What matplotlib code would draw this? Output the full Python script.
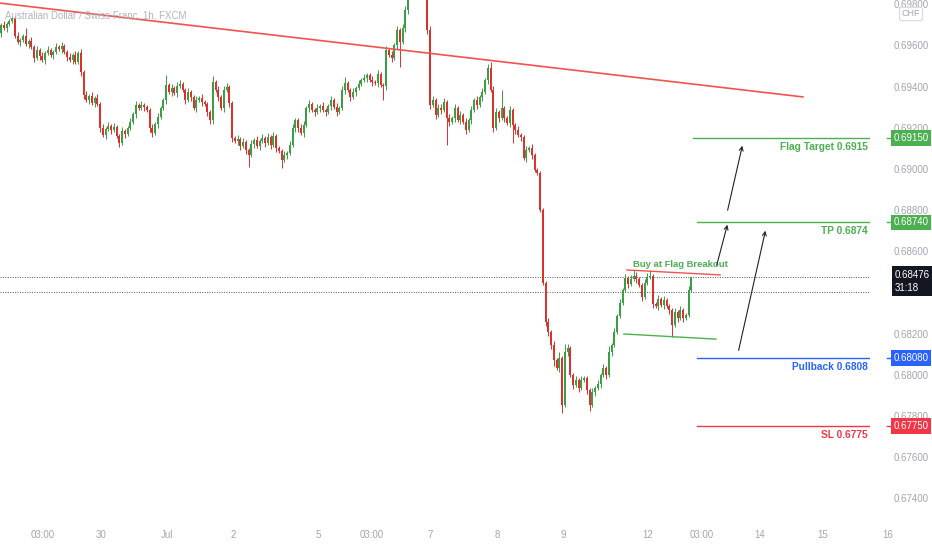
import matplotlib
matplotlib.use('Agg')
import matplotlib.pyplot as plt
from matplotlib.transforms import ScaledTranslation

# AUD/CHF 1h closes, one per bar
closes = [
    0.69700, 0.69685, 0.69704, 0.69719, 0.69734, 0.69646, 0.69617, 0.69627, 0.69646, 0.69607, 0.69622, 0.69593,
    0.69539, 0.69578, 0.69549, 0.69529, 0.69563, 0.69578, 0.69554, 0.69568, 0.69593, 0.69583, 0.69597, 0.69568,
    0.69544, 0.69529, 0.69554, 0.69520, 0.69563, 0.69471, 0.69359, 0.69335, 0.69354, 0.69320, 0.69345, 0.69316,
    0.69199, 0.69165, 0.69194, 0.69209, 0.69189, 0.69204, 0.69160, 0.69126, 0.69184, 0.69170, 0.69199, 0.69228,
    0.69267, 0.69311, 0.69296, 0.69311, 0.69301, 0.69286, 0.69199, 0.69175, 0.69218, 0.69252, 0.69296, 0.69335,
    0.69408, 0.69374, 0.69393, 0.69369, 0.69403, 0.69413, 0.69384, 0.69335, 0.69374, 0.69350, 0.69296, 0.69335,
    0.69345, 0.69325, 0.69316, 0.69277, 0.69238, 0.69422, 0.69384, 0.69350, 0.69296, 0.69384, 0.69398, 0.69320,
    0.69150, 0.69136, 0.69145, 0.69111, 0.69131, 0.69092, 0.69068, 0.69121, 0.69141, 0.69111, 0.69136, 0.69150,
    0.69126, 0.69155, 0.69116, 0.69160, 0.69102, 0.69087, 0.69043, 0.69068, 0.69077, 0.69116, 0.69199, 0.69238,
    0.69199, 0.69175, 0.69214, 0.69296, 0.69316, 0.69286, 0.69277, 0.69296, 0.69306, 0.69286, 0.69277, 0.69306,
    0.69335, 0.69301, 0.69277, 0.69296, 0.69384, 0.69418, 0.69384, 0.69350, 0.69374, 0.69393, 0.69413, 0.69432,
    0.69442, 0.69457, 0.69432, 0.69422, 0.69418, 0.69461, 0.69408, 0.69403, 0.69578, 0.69554, 0.69539, 0.69602,
    0.69675, 0.69617, 0.69685, 0.69772, 0.69860, 0.69943, 0.69991, 0.69967, 0.70015, 0.69977, 0.69957, 0.69675,
    0.69311, 0.69335, 0.69262, 0.69296, 0.69286, 0.69325, 0.69248, 0.69228, 0.69248, 0.69296, 0.69238, 0.69262,
    0.69228, 0.69189, 0.69238, 0.69286, 0.69335, 0.69311, 0.69350, 0.69374, 0.69432, 0.69491, 0.69384, 0.69199,
    0.69277, 0.69248, 0.69296, 0.69248, 0.69223, 0.69286, 0.69214, 0.69189, 0.69165, 0.69155, 0.69053, 0.69092,
    0.69102, 0.69068, 0.68995, 0.68980, 0.68800, 0.68446, 0.68256, 0.68207, 0.68144, 0.68071, 0.68033, 0.68081,
    0.67853, 0.68110, 0.68130, 0.67999, 0.67950, 0.67974, 0.67935, 0.67974, 0.67984, 0.67925, 0.67853, 0.67916,
    0.67935, 0.67955, 0.67999, 0.68033, 0.67999, 0.68110, 0.68144, 0.68207, 0.68285, 0.68348, 0.68412, 0.68470,
    0.68441, 0.68465, 0.68480, 0.68465, 0.68436, 0.68377, 0.68446, 0.68475, 0.68480, 0.68343, 0.68334, 0.68368,
    0.68339, 0.68363, 0.68334, 0.68315, 0.68241, 0.68305, 0.68276, 0.68315, 0.68276, 0.68290, 0.68412, 0.68476,
]
first_open = 0.69661

# wick lengths in pips above / below the body
wick_up = [
    1, 2, 1, 1, 1, 1, 2, 1, 1, 4, 1, 2,
    1, 2, 1, 2, 1, 2, 1, 1, 2, 1, 2, 1,
    1, 2, 1, 2, 1, 2, 1, 2, 1, 2, 1, 2,
    1, 2, 1, 2, 1, 2, 1, 1, 2, 1, 1, 2,
    1, 2, 1, 2, 1, 1, 1, 2, 1, 2, 1, 1,
    5, 1, 2, 1, 2, 2, 1, 1, 2, 1, 1, 2,
    1, 2, 1, 1, 1, 3, 1, 2, 1, 2, 2, 1,
    1, 1, 2, 1, 2, 1, 1, 2, 1, 2, 1, 2,
    1, 2, 1, 2, 1, 1, 1, 2, 1, 2, 2, 1,
    1, 2, 2, 1, 2, 1, 1, 2, 1, 2, 1, 1,
    2, 1, 2, 1, 2, 3, 1, 1, 2, 1, 2, 1,
    2, 1, 1, 2, 1, 2, 1, 1, 2, 1, 2, 1,
    2, 1, 2, 2, 3, 3, 2, 2, 3, 2, 2, 2,
    2, 2, 1, 2, 2, 2, 1, 2, 1, 2, 1, 2,
    1, 2, 1, 2, 1, 2, 1, 2, 1, 2, 3, 2,
    2, 1, 9, 1, 1, 2, 1, 1, 2, 1, 1, 2,
    1, 2, 1, 1, 1, 1, 1, 2, 1, 2, 1, 3,
    1, 4, 2, 1, 1, 2, 1, 2, 1, 1, 1, 2,
    1, 2, 1, 2, 1, 3, 1, 2, 1, 2, 1, 2,
    1, 2, 3, 2, 1, 1, 2, 2, 3, 1, 1, 2,
    1, 2, 1, 1, 1, 2, 1, 2, 1, 1, 2, 0,
]
wick_down = [
    2, 1, 2, 1, 1, 1, 1, 2, 1, 1, 2, 1,
    2, 1, 2, 1, 2, 1, 1, 2, 1, 1, 2, 1,
    2, 1, 2, 1, 1, 2, 2, 1, 2, 1, 2, 1,
    2, 1, 2, 1, 2, 1, 1, 2, 1, 2, 1, 1,
    1, 2, 1, 1, 2, 1, 2, 2, 1, 2, 1, 1,
    2, 1, 2, 1, 2, 1, 1, 2, 1, 2, 1, 2,
    1, 2, 1, 2, 2, 2, 1, 2, 1, 2, 1, 2,
    2, 1, 2, 2, 1, 2, 6, 1, 2, 1, 2, 1,
    2, 1, 2, 1, 2, 1, 4, 1, 2, 1, 1, 2,
    2, 1, 2, 1, 2, 1, 2, 1, 2, 1, 2, 1,
    2, 1, 2, 1, 1, 2, 1, 2, 1, 2, 1, 1,
    1, 2, 1, 2, 1, 2, 1, 7, 2, 1, 2, 1,
    2, 12, 1, 2, 2, 2, 2, 2, 2, 2, 2, 2,
    2, 1, 2, 1, 2, 1, 13, 2, 1, 2, 1, 2,
    1, 2, 1, 2, 1, 2, 1, 2, 1, 2, 1, 2,
    1, 2, 1, 2, 1, 2, 9, 2, 1, 2, 1, 2,
    1, 2, 1, 1, 1, 1, 2, 2, 2, 3, 1, 2,
    4, 1, 2, 1, 2, 1, 2, 1, 1, 2, 3, 1,
    2, 1, 2, 1, 2, 1, 2, 1, 1, 1, 1, 1,
    2, 1, 1, 2, 1, 2, 1, 1, 1, 2, 1, 2,
    1, 2, 1, 2, 6, 1, 2, 1, 2, 1, 1, 1,
]

price_ticks = [0.674, 0.676, 0.678, 0.680, 0.682, 0.686, 0.688, 0.690, 0.692, 0.694, 0.696, 0.698]
time_ticks = [15.3, 36.4, 60.4, 84.4, 115.3, 134.9, 156.0, 180.4, 204.4, 235.3, 254.9, 276.0, 298.9, 322.5]
time_labels = ['03:00', '30', 'Jul', '2', '5', '03:00', '7', '8', '9', '12', '03:00', '14', '15', '16']

# analyst drawings (bar index, price)
trend_bars, trend_prices = [-0.4, 291.6], [0.69806, 0.69350]
flag_top_bars, flag_top_prices = [227.6, 261.5], [0.68509, 0.68485]
flag_bot_bars, flag_bot_prices = [226.5, 260.0], [0.68198, 0.68173]
level_names = ['Flag Target', 'TP', 'Pullback', 'SL']
level_prices = [0.6915, 0.6874, 0.6808, 0.6775]
level_start = [251.6, 253.1, 253.1, 253.1]
level_colors = ['#4caf50', '#4caf50', '#2962ff', '#f23645']
arrows = [((260.0, 0.68519), (264.4, 0.68742)),
          ((264.0, 0.68786), (269.8, 0.69126)),
          ((268.0, 0.68105), (278.2, 0.68713))]
last_price = 0.68476
prev_line = 0.68402
countdown = '31:18'

UP, DOWN = '#3a9e44', '#dc312b'
AXIS_GREY = '#a3a6ae'

plt.rcParams['font.family'] = ['Liberation Sans', 'DejaVu Sans']

fig = plt.figure(figsize=(9.32, 5.5), dpi=100)
ax = fig.add_axes([0, 30 / 550, 870 / 932, 520 / 550])
for s in ax.spines.values():
    s.set_visible(False)

opens = [first_open] + closes[:-1]
pip = 0.0001
for i, (o, c) in enumerate(zip(opens, closes)):
    col = UP if c >= o else DOWN
    hi = max(o, c) + wick_up[i] * pip
    lo = min(o, c) - wick_down[i] * pip
    ax.vlines(i, lo, hi, color=col, lw=0.7, zorder=3)
    ax.bar(i, max(abs(c - o), 0.00003), bottom=min(o, c), width=0.72,
           color=col, edgecolor=col, lw=0, zorder=3)

ax.set_xlim(-0.364, 316)
ax.set_ylim(0.67294, 0.69821)
x_right = ax.get_xlim()[1]

# trendline and flag
ax.plot(trend_bars, trend_prices, color='#ef5350', lw=1.2, zorder=4)
ax.plot(flag_top_bars, flag_top_prices, color='#ef5350', lw=1.0, zorder=4)
ax.plot(flag_bot_bars, flag_bot_prices, color='#4caf50', lw=1.0, zorder=4)
ax.text(229.8, 0.68535, 'Buy at Flag Breakout', color='#4caf50', fontsize=6.8,
        fontweight='bold', ha='left', va='center', zorder=5)

# current price lines
ax.axhline(last_price, color='#555555', lw=0.7, ls=(0, (1, 1.5)), zorder=2)
ax.axhline(prev_line, color='#555555', lw=0.7, ls=(0, (1, 1.5)), zorder=2)

ytrans = ax.get_yaxis_transform()
below = ytrans + ScaledTranslation(0, -4 / 100, fig.dpi_scale_trans)
for name, p, x0, col in zip(level_names, level_prices, level_start, level_colors):
    ax.plot([x0, x_right], [p, p], color=col, lw=1.0, zorder=4)
    ax.text(868 / 870, p, f'{name} {p:.4f}', transform=below, color=col,
            fontsize=7.3, fontweight='bold', ha='right', va='top', zorder=5)
    ax.plot([1.019, 1.026], [p, p], transform=ytrans, color=col, lw=1.0, clip_on=False)
    ax.text(911 / 870, p, f'{p:.5f}', transform=ytrans, color='white', fontsize=7,
            ha='center', va='center', zorder=6, clip_on=False,
            bbox=dict(boxstyle='square,pad=0.3', fc=col, ec='none'))

for start, end in arrows:
    ax.annotate('', xy=end, xytext=start,
                arrowprops=dict(arrowstyle='->', color='#222222', lw=0.8, mutation_scale=7),
                zorder=5)

# last price box
top = ytrans + ScaledTranslation(0, 7 / 100, fig.dpi_scale_trans)
ax.text(895 / 870, last_price, f'{last_price:.5f}\n{countdown}', transform=top,
        color='white', fontsize=7, ha='left', va='top', linespacing=1.4,
        zorder=6, clip_on=False,
        bbox=dict(boxstyle='square,pad=0.35', fc='#131722', ec='none'))

# price scale
ax.yaxis.tick_right()
ax.set_yticks(price_ticks)
ax.set_yticklabels([f'{t:.5f}' for t in price_ticks])
ax.tick_params(axis='y', length=0, pad=17, labelsize=7, labelcolor=AXIS_GREY)
ax.set_xticks([])

xtrans = ax.get_xaxis_transform()
for t, lab in zip(time_ticks, time_labels):
    ax.text(t, -15 / 520, lab, transform=xtrans, color=AXIS_GREY, fontsize=7,
            ha='center', va='center', clip_on=False)

ax.text(5 / 870, 1 - 15 / 520, 'Australian Dollar / Swiss Franc, 1h, FXCM',
        transform=ax.transAxes, color='#b2b5be', fontsize=7, ha='left', va='center', zorder=6)
ax.text(911 / 870, 1 - 14 / 520, 'CHF', transform=ax.transAxes, color=AXIS_GREY,
        fontsize=6.5, ha='center', va='center', clip_on=False, zorder=6,
        bbox=dict(boxstyle='round,pad=0.25', fc='white', ec='#d6d8de', lw=0.8))

fig.savefig('out.png', dpi=100, facecolor='white')
